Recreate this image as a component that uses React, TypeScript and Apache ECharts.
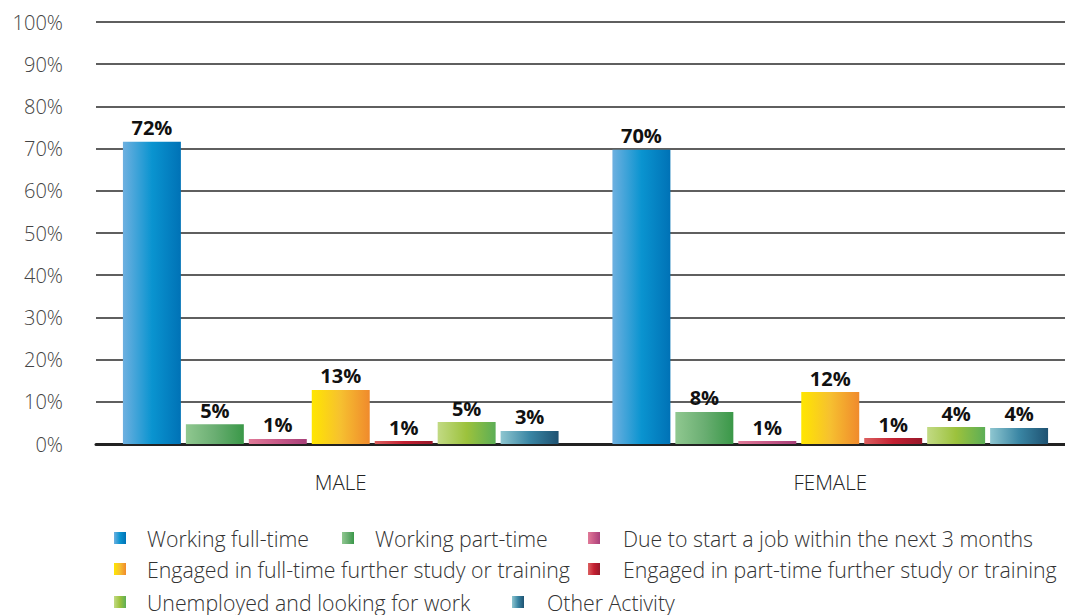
import React, { useEffect, useRef } from "react";
import * as echarts from "echarts";

const categories = ["MALE", "FEMALE"];
const seriesNames = [
  "Working full-time",
  "Working part-time",
  "Due to start a job within the next 3 months",
  "Engaged in full-time further study or training",
  "Engaged in part-time further study or training",
  "Unemployed and looking for work",
  "Other Activity",
];
const maleValues = [71.6, 4.7, 1.2, 12.8, 0.7, 5.2, 3.1];
const femaleValues = [69.7, 7.6, 0.7, 12.3, 1.4, 4.0, 3.8];
const yTicks = [0, 10, 20, 30, 40, 50, 60, 70, 80, 90, 100];

const gradients: string[][] = [
  ["#6eb0e0", "#0a94d0", "#0072b6"],
  ["#90c890", "#6aae72", "#3a9848"],
  ["#e07a98", "#c85a88", "#a8407a"],
  ["#ffe600", "#f6c030", "#f08a2c"],
  ["#dc6060", "#c42032", "#98182a"],
  ["#c2da84", "#9cc23c", "#5cae56"],
  ["#8ec6d0", "#3a86a4", "#1e5272"],
];

// legend positions [iconLeft, rowCenterY, textOffset]
const legendPos: number[][] = [
  [114, 538, 33],
  [342, 538, 33],
  [588, 538, 35],
  [114, 569, 33],
  [588, 569, 35],
  [114, 602, 33],
  [512, 602, 35],
];

export default function App() {
  const ref = useRef<HTMLDivElement>(null);
  useEffect(() => {
    if (!ref.current) return;
    const chart = echarts.init(ref.current, null, { renderer: "svg" });
    const font = "'Open Sans', 'Noto Sans', sans-serif";
    const series = seriesNames.map((name, i) => ({
      name,
      type: "bar",
      data: [maleValues[i], femaleValues[i]],
      barGap: "8.6%",
      barCategoryGap: "11%",
      itemStyle: {
        color: new echarts.graphic.LinearGradient(0, 0, 1, 0, [
          { offset: 0, color: gradients[i][0] },
          { offset: 0.5, color: gradients[i][1] },
          { offset: 1, color: gradients[i][2] },
        ]),
      },
      label: {
        show: true,
        position: "top",
        distance: 4,
        formatter: (p: any) => Math.round(p.value) + "%",
        fontFamily: font,
        fontWeight: "bold",
        fontSize: 20,
        color: "#111",
      },
    }));
    const legends = seriesNames.map((name, i) => ({
      data: [name],
      left: legendPos[i][0],
      top: legendPos[i][1] - 12,
      padding: 0,
      itemWidth: 12,
      itemHeight: 12,
      icon: "rect",
      selectedMode: false,
      textStyle: {
        fontFamily: font,
        fontSize: 21.3,
        fontWeight: 300,
        color: "#333",
        lineHeight: 24,
        padding: [0, 0, 0, legendPos[i][2] - 12 - 5],
      },
    }));
    chart.setOption({
      animation: false,
      grid: { left: 96, right: 0, top: 22, bottom: 171, containLabel: false },
      legend: legends,
      xAxis: {
        type: "category",
        data: categories,
        axisLine: { show: true, lineStyle: { color: "#222", width: 3 } },
        axisTick: { show: false },
        axisLabel: { fontFamily: font, fontSize: 20.5, fontWeight: 300, color: "#222", margin: 27 },
      },
      yAxis: {
        type: "value",
        min: yTicks[0],
        max: yTicks[yTicks.length - 1],
        interval: 10,
        axisLine: { show: false },
        axisTick: { show: false },
        axisLabel: {
          fontFamily: font,
          fontSize: 20,
          fontWeight: 300,
          color: "#444",
          margin: 33,
          formatter: "{value}%",
        },
        splitLine: { lineStyle: { color: "#2a2a2a", width: 1.6 } },
      },
      series,
    });
    return () => chart.dispose();
  }, []);
  return (
    <div
      ref={ref}
      style={{ position: "fixed", left: 0, top: 0, width: 1075, height: 615, background: "#fff" }}
    />
  );
}
